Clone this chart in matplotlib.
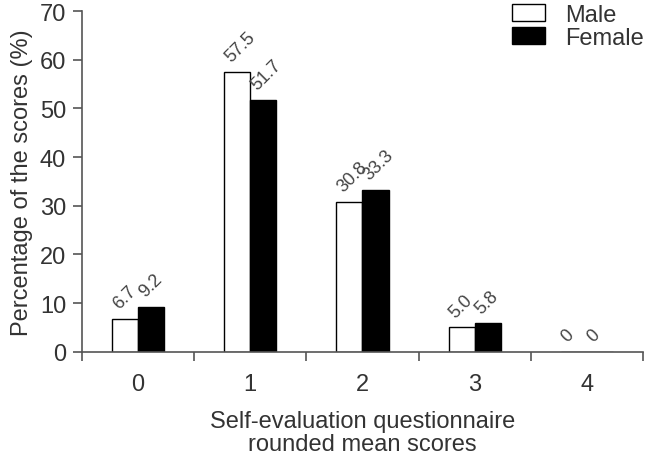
import matplotlib
matplotlib.use("Agg")
import matplotlib.pyplot as plt
import numpy as np

categories = ["0", "1", "2", "3", "4"]
male = [6.7, 57.5, 30.8, 5.0, 0]
female = [9.2, 51.7, 33.3, 5.8, 0]
male_labels = ["6.7", "57.5", "30.8", "5.0", "0"]
female_labels = ["9.2", "51.7", "33.3", "5.8", "0"]

plt.rcParams['font.family'] = ['Liberation Sans', 'DejaVu Sans']

fig = plt.figure(figsize=(6.59, 4.6), dpi=100)
ax = fig.add_axes([0.1244, 0.2333, 0.8513, 0.7406])

x = np.arange(len(categories))
w = 0.232
axc = '#333333'
ax.bar(x - w/2, male, w, color='white', edgecolor='black', linewidth=1.0, label='Male')
ax.bar(x + w/2, female, w, color='black', edgecolor='black', linewidth=1.0, label='Female')

for xi, v, t in zip(x - w, male, male_labels):
    ax.text(xi + 0.06, v + 2.0, t, rotation=45, rotation_mode='anchor', ha='left', va='baseline',
            fontsize=13, color='#444444')
for xi, v, t in zip(x, female, female_labels):
    ax.text(xi + 0.06, v + 2.0, t, rotation=45, rotation_mode='anchor', ha='left', va='baseline',
            fontsize=13, color='#444444')

ax.set_xlim(-0.5, 4.5)
ax.set_ylim(0, 70)
ax.set_yticks(np.arange(0, 71, 10))
ax.set_xticks(x)
ax.set_xticklabels(categories)
ax.set_xticks(np.arange(-0.5, 4.6, 1), minor=True)
ax.tick_params(axis='x', which='major', length=0, pad=15, labelsize=17, colors=axc)
ax.tick_params(axis='x', which='minor', length=6.5, width=1.2, direction='out', color='#555555')
ax.tick_params(axis='y', length=6.5, width=1.2, direction='out', labelsize=17, colors=axc, pad=5)
ax.tick_params(axis='y', color='#555555')
for s in ['top', 'right']:
    ax.spines[s].set_visible(False)
for s in ['left', 'bottom']:
    ax.spines[s].set_color('#555555')
    ax.spines[s].set_linewidth(1.2)

ax.set_ylabel('Percentage of the scores (%)', fontsize=17, color=axc, labelpad=5)
ax.set_xlabel('Self-evaluation questionnaire\nrounded mean scores', fontsize=17, color=axc, labelpad=11,
              linespacing=1.05)

leg = ax.legend(loc='upper left', bbox_to_anchor=(512/659, 0.99), bbox_transform=fig.transFigure,
                frameon=False, fontsize=17, borderaxespad=0, borderpad=0.0,
                handlelength=1.4, handleheight=0.72, handletextpad=0.85, labelspacing=0.05)
for t in leg.get_texts():
    t.set_color(axc)

fig.savefig('out.png', dpi=100)
